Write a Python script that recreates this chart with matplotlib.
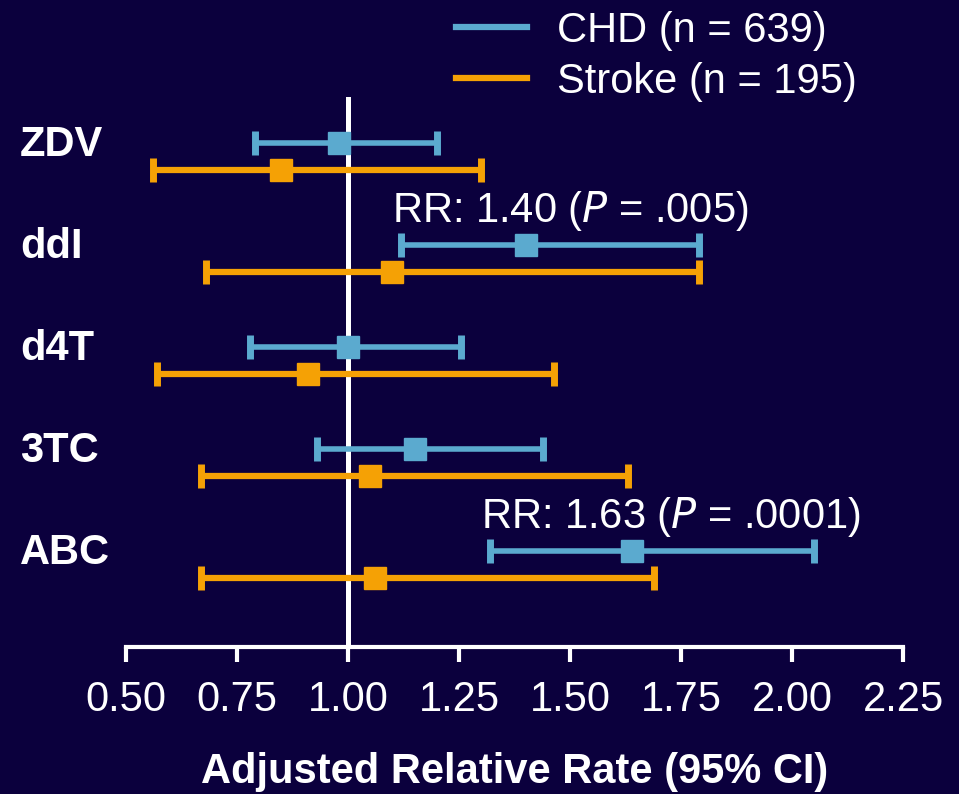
import matplotlib
matplotlib.use("Agg")
import matplotlib.pyplot as plt
from matplotlib.lines import Line2D
import numpy as np

plt.rcParams['font.family'] = ['Liberation Sans', 'DejaVu Sans']

drugs = ["ZDV", "ddI", "d4T", "3TC", "ABC"]
chd_rr = [0.98, 1.40, 1.00, 1.15, 1.64]
chd_lo = [0.79, 1.12, 0.78, 0.93, 1.32]
chd_hi = [1.20, 1.79, 1.255, 1.44, 2.05]
stroke_rr = [0.85, 1.10, 0.91, 1.05, 1.06]
stroke_lo = [0.56, 0.68, 0.57, 0.67, 0.67]
stroke_hi = [1.30, 1.79, 1.465, 1.63, 1.69]
xticks = [0.50, 0.75, 1.00, 1.25, 1.50, 1.75, 2.00, 2.25]
chd_label = "CHD (n = 639)"
stroke_label = "Stroke (n = 195)"
annotations = {"ddI": "RR: 1.40 ($\\it{P}$ = .005)", "ABC": "RR: 1.63 ($\\it{P}$ = .0001)"}

BG = "#0B003D"
C_CHD = "#5BAACF"
C_STR = "#F5A105"
W = 959; H = 794

fig = plt.figure(figsize=(W/100, H/100), dpi=100, facecolor=BG)
ax = fig.add_axes([126/W, 1-647/H, (903-126)/W, (647-97)/H], facecolor=BG)

rows = np.arange(len(drugs))
off = 0.133
y_chd = rows - off
y_str = rows + off

ax.axvline(1.0, color="white", lw=3.6, zorder=1)

chd_rr_a = np.array(chd_rr); stroke_rr_a = np.array(stroke_rr)
ax.errorbar(chd_rr_a, y_chd,
            xerr=[chd_rr_a-np.array(chd_lo), np.array(chd_hi)-chd_rr_a],
            fmt='s', color=C_CHD, ms=15.5, elinewidth=4, capsize=8.6, capthick=5, zorder=3)
ax.errorbar(stroke_rr_a, y_str,
            xerr=[stroke_rr_a-np.array(stroke_lo), np.array(stroke_hi)-stroke_rr_a],
            fmt='s', color=C_STR, ms=15.5, elinewidth=4.5, capsize=8.6, capthick=5, zorder=3)

ax.set_xlim(0.5, 2.25)
ax.set_ylim(4.81, -0.583)
ax.set_xticks(xticks)
ax.set_xticklabels([f"{t:.2f}" for t in xticks], fontsize=30, color="white")
ax.tick_params(axis='x', direction='out', length=11, width=3, color="white", pad=13)
ax.set_yticks([])
for s in ["top", "right", "left"]:
    ax.spines[s].set_visible(False)
ax.spines["bottom"].set_color("white")
ax.spines["bottom"].set_linewidth(3)

ax.set_xlabel("Adjusted Relative Rate (95% CI)", fontsize=30, fontweight="bold", color="white", labelpad=23)

tr = ax.get_yaxis_transform()
for i, d in enumerate(drugs):
    ax.text(-0.1364, i - 0.11, d, transform=tr, fontsize=30, fontweight="bold", color="white",
            ha="left", va="center")

for d, txt in annotations.items():
    i = drugs.index(d)
    ax.text(chd_lo[i] - 0.02, y_chd[i] - 0.225, txt, fontsize=30, color="white", ha="left", va="baseline")

handles = [Line2D([], [], color=C_CHD, lw=4.5), Line2D([], [], color=C_STR, lw=4.5)]
leg = fig.legend(handles, [chd_label, stroke_label], loc="upper left",
                 bbox_to_anchor=(456/W, 1-11/H), frameon=False, fontsize=30,
                 handlelength=1.7, handletextpad=0.72, labelspacing=0.26, borderpad=0, borderaxespad=0)
for t in leg.get_texts():
    t.set_color("white")

fig.savefig("out.png", dpi=100, facecolor=BG)
